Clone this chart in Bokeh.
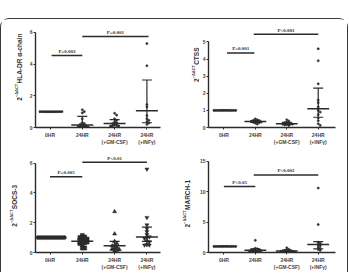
import math
from bokeh.plotting import figure
from bokeh.layouts import column, row
from bokeh.models import Range1d, FixedTicker, Label, LabelSet, ColumnDataSource
from bokeh.embed import file_html
from bokeh.resources import INLINE

categories = ["0HR", "24HR", "24HR\n(+GM-CSF)", "24HR\n(+INFγ)"]
cat_pos = [1, 2, 3, 4]

# ---- Panel A: HLA-DR alpha-chain ----
hla_0hr = [1.0, 1.0, 1.0, 1.0, 1.0, 1.0, 1.0, 1.0, 1.0, 1.0, 1.0, 1.0]
hla_24hr = [1.12, 1.0, 0.92, 0.55, 0.3, 0.25, 0.2, 0.15, 0.12, 0.1, 0.08, 0.05, 0.03]
hla_gm = [0.9, 0.78, 0.55, 0.45, 0.35, 0.3, 0.25, 0.2, 0.15, 0.12, 0.1, 0.08]
hla_ifn = [5.3, 3.9, 1.45, 1.3, 0.75, 0.55, 0.45, 0.35, 0.28, 0.2]
hla_center = [1.0, 0.15, 0.25, 1.05]
hla_low = [1.0, 0.05, 0.1, 0.3]
hla_high = [1.0, 0.7, 0.5, 3.0]
hla_ticks = [0, 2, 4, 6]
hla_p_text = ["P=0.003", "P=0.001"]
hla_p_from = [1.05, 2.0]
hla_p_to = [2.0, 4.05]
hla_p_y = [4.55, 5.75]

# ---- Panel B: CTSS ----
ctss_0hr = [1.0, 1.0, 1.0, 1.0, 1.0, 1.0, 1.0, 1.0, 1.0, 1.0, 1.0, 1.0]
ctss_24hr = [0.5, 0.45, 0.42, 0.4, 0.38, 0.35, 0.33, 0.32, 0.3, 0.28, 0.25, 0.2]
ctss_gm = [0.45, 0.38, 0.3, 0.28, 0.25, 0.22, 0.2, 0.2, 0.18, 0.15, 0.12]
ctss_ifn = [4.6, 3.9, 2.55, 1.6, 1.45, 1.2, 1.0, 0.9, 0.75, 0.55, 0.4, 0.22, 0.12]
ctss_center = [1.0, 0.35, 0.22, 1.1]
ctss_low = [1.0, 0.3, 0.17, 0.6]
ctss_high = [1.0, 0.4, 0.3, 2.3]
ctss_ticks = [0, 1, 2, 3, 4, 5]
ctss_p_text = ["P=0.001", "P<0.001"]
ctss_p_from = [1.1, 1.95]
ctss_p_to = [1.97, 4.0]
ctss_p_y = [4.36, 5.45]

# ---- Panel C: SOCS-3 ----
socs_0hr = [1.0, 1.0, 1.0, 1.0, 1.0, 1.0, 1.0, 1.0, 1.0, 1.0, 1.0, 1.0]
socs_24hr = [1.15, 1.05, 1.0, 0.95, 0.9, 0.85, 0.8, 0.75, 0.7, 0.65, 0.6, 0.55, 0.3, 0.3]
socs_gm = [2.75, 1.25, 0.75, 0.6, 0.5, 0.45, 0.35, 0.3, 0.25, 0.2, 0.15, 0.1]
socs_ifn = [5.6, 2.35, 1.85, 1.6, 1.4, 1.2, 1.05, 1.0, 0.95, 0.75, 0.72, 0.52, 0.5, 0.5]
socs_center = [1.0, 0.75, 0.45, 1.05]
socs_low = [1.0, 0.6, 0.15, 0.75]
socs_high = [1.0, 0.9, 0.75, 1.7]
socs_ticks = [0, 2, 4, 6]
socs_p_text = ["P=0.005", "P<0.01"]
socs_p_from = [1.0, 2.0]
socs_p_to = [2.0, 4.0]
socs_p_y = [5.09, 6.07]

# ---- Panel D: MARCH-1 ----
march_0hr = [1.0, 1.0, 1.0, 1.0, 1.0, 1.0, 1.0, 1.0, 1.0, 1.0, 1.0, 1.0]
march_24hr = [2.0, 0.7, 0.6, 0.5, 0.45, 0.4, 0.35, 0.3, 0.25, 0.2, 0.15, 0.1]
march_gm = [0.75, 0.5, 0.4, 0.35, 0.3, 0.25, 0.2, 0.2, 0.15, 0.1]
march_ifn = [10.6, 4.6, 1.7, 1.5, 1.3, 1.1, 0.9, 0.7, 0.5, 0.35]
march_center = [1.0, 0.35, 0.25, 1.3]
march_low = [1.0, 0.15, 0.15, 0.6]
march_high = [1.0, 0.6, 0.4, 1.8]
march_ticks = [0, 5, 10, 15]
march_p_text = ["P<0.05", "P<0.002"]
march_p_from = [1.0, 1.95]
march_p_to = [2.0, 4.0]
march_p_y = [10.85, 12.76]

INK = "#2b2b2b"
FONT = "Liberation Sans"


def swarm(vals, pyu, pxu, d):
    placed = []
    offs = []
    cands = [0.0]
    for i in range(1, 40):
        cands += [i * d, -i * d]
    for v in vals:
        yp = v * pyu
        chosen = 0.0
        for c in cands:
            if all((c - a) ** 2 + (yp - b) ** 2 >= (d * 0.999) ** 2 for a, b in placed):
                chosen = c
                break
        placed.append((chosen, yp))
        offs.append(chosen / pxu)
    return offs


def label_fig(LW, H, lab, name):
    """Narrow figure holding the rotated y-axis title 2^(-ddCT) <name>."""
    lf = figure(width=LW, height=H, x_range=Range1d(0, LW), y_range=Range1d(0, H),
                output_backend="svg", toolbar_location=None,
                x_axis_location=None, y_axis_location=None, min_border=0)
    lf.outline_line_color = None
    lf.grid.visible = False
    lx, lyb = lab
    common = dict(angle=math.pi / 2, text_align="left", text_baseline="middle",
                  text_color="#333333", text_font=FONT, text_font_style="bold")
    lf.add_layout(Label(x=lx, y=H - lyb, text="2", text_font_size="6.5px", **common))
    lf.add_layout(Label(x=lx - 2.5, y=H - lyb + 4.5, text="−ΔΔCT",
                        text_font_size="4px", **common))
    lf.add_layout(Label(x=lx, y=H - lyb + 22, text=name, text_font_size="6.5px", **common))
    return lf


def make_panel(groups, center, low, high, ticks, ylab, p_text, p_from, p_to, p_y,
               geo, markers, msize, spacing):
    LW, W, H, bl, br, bt, bb, xs, xe, ye, lab = geo
    fw = W - bl - br
    fh = H - bt - bb
    pxu = fw / (xe - xs)
    pyu = fh / ye
    p = figure(width=W, height=H, x_range=Range1d(xs, xe), y_range=Range1d(0, ye),
               output_backend="svg", toolbar_location=None,
               min_border_left=bl, min_border_right=br, min_border_top=bt,
               min_border_bottom=bb)
    p.outline_line_color = None
    p.grid.visible = False
    p.border_fill_color = "white"
    p.background_fill_color = "white"

    for ax in (p.xaxis[0], p.yaxis[0]):
        ax.axis_line_width = 1.4
        ax.axis_line_color = INK
        ax.major_tick_line_color = INK
        ax.major_tick_line_width = 1
        ax.major_tick_in = 0
        ax.major_tick_out = 2
        ax.minor_tick_line_color = None
        ax.major_label_text_font_size = "5px"
        ax.major_label_text_color = "#444444"
        ax.major_label_text_font = FONT
        ax.major_label_text_font_style = "bold"
        ax.major_label_standoff = 2
    p.yaxis.major_label_standoff = 1
    p.xaxis.ticker = FixedTicker(ticks=cat_pos, minor_ticks=[])
    p.xaxis.major_label_overrides = {k: c for k, c in zip(cat_pos, categories)}
    p.yaxis.ticker = FixedTicker(ticks=ticks, minor_ticks=[])
    p.yaxis.bounds = (0, ticks[-1])

    # points
    for gx, vals, mk in zip(cat_pos, groups, markers):
        offs = swarm(vals, pyu, pxu, spacing)
        p.scatter(x=[gx + o for o in offs], y=vals, marker=mk, size=msize,
                  color=INK, line_width=0.5)

    # median lines and error bars
    half = 11 / pxu
    cap = 5 / pxu
    p.segment(x0=[c - half for c in cat_pos], x1=[c + half for c in cat_pos],
              y0=center, y1=center, line_color=INK, line_width=1.5)
    p.segment(x0=cat_pos, x1=cat_pos, y0=low, y1=high, line_color=INK, line_width=1.2)
    p.segment(x0=[c - cap for c in cat_pos], x1=[c + cap for c in cat_pos],
              y0=high, y1=high, line_color=INK, line_width=1.2)
    p.segment(x0=[c - cap for c in cat_pos], x1=[c + cap for c in cat_pos],
              y0=low, y1=low, line_color=INK, line_width=1.2)

    # significance brackets
    p.segment(x0=p_from, x1=p_to, y0=p_y, y1=p_y, line_color=INK, line_width=1.5)
    src = ColumnDataSource(dict(x=[(a + b) / 2 for a, b in zip(p_from, p_to)], y=p_y, t=p_text))
    p.add_layout(LabelSet(x="x", y="y", text="t", source=src, text_align="center",
                          text_baseline="bottom", y_offset=1.5, text_font_size="5px",
                          text_font=FONT, text_font_style="bold", text_color="#333333"))

    return row(label_fig(LW, H, lab, ylab), p)


# geometry: label width, W, H, border l/r/t/b, x start/end, y end, label anchor (px in label fig)
geo1 = (23, 150, 131, 11, 14, 6, 23, 0.551, 4.421, 6.44, (17.5, 96.5))
geo2 = (25, 148, 131, 8, 12, 6, 23, 0.511, 4.549, 5.96, (21.5, 72.5))
geo3 = (23, 150, 122, 11, 14, 5, 17, 0.551, 4.421, 6.52, (12.5, 89.5))
geo4 = (22, 151, 122, 11, 12, 5, 17, 0.511, 4.549, 15.95, (12.5, 90.5))

dots = ["circle", "circle", "circle", "circle"]
p1 = make_panel([hla_0hr, hla_24hr, hla_gm, hla_ifn], hla_center, hla_low, hla_high,
                hla_ticks, "HLA-DR α-chain", hla_p_text, hla_p_from, hla_p_to, hla_p_y,
                geo1, dots, 2.2, 2.0)
p2 = make_panel([ctss_0hr, ctss_24hr, ctss_gm, ctss_ifn], ctss_center, ctss_low, ctss_high,
                ctss_ticks, "CTSS", ctss_p_text, ctss_p_from, ctss_p_to, ctss_p_y,
                geo2, dots, 2.2, 2.0)
p3 = make_panel([socs_0hr, socs_24hr, socs_gm, socs_ifn], socs_center, socs_low, socs_high,
                socs_ticks, "SOCS-3", socs_p_text, socs_p_from, socs_p_to, socs_p_y,
                geo3, ["circle", "square", "triangle", "inverted_triangle"], 4.0, 2.4)
p4 = make_panel([march_0hr, march_24hr, march_gm, march_ifn], march_center, march_low, march_high,
                march_ticks, "MARCH-1", march_p_text, march_p_from, march_p_to, march_p_y,
                geo4, dots, 2.2, 2.0)

layout = column(row(p1, p2), row(p3, p4), margin=(18, 0, 0, 0),
                styles={"border-top": "1.5px solid #3a3a3a",
                        "border-left": "1.5px solid #3a3a3a",
                        "border-right": "1.5px solid #3a3a3a",
                        "border-top-left-radius": "9px",
                        "border-top-right-radius": "9px"})

open("out.html", "w").write(file_html(layout, INLINE))
